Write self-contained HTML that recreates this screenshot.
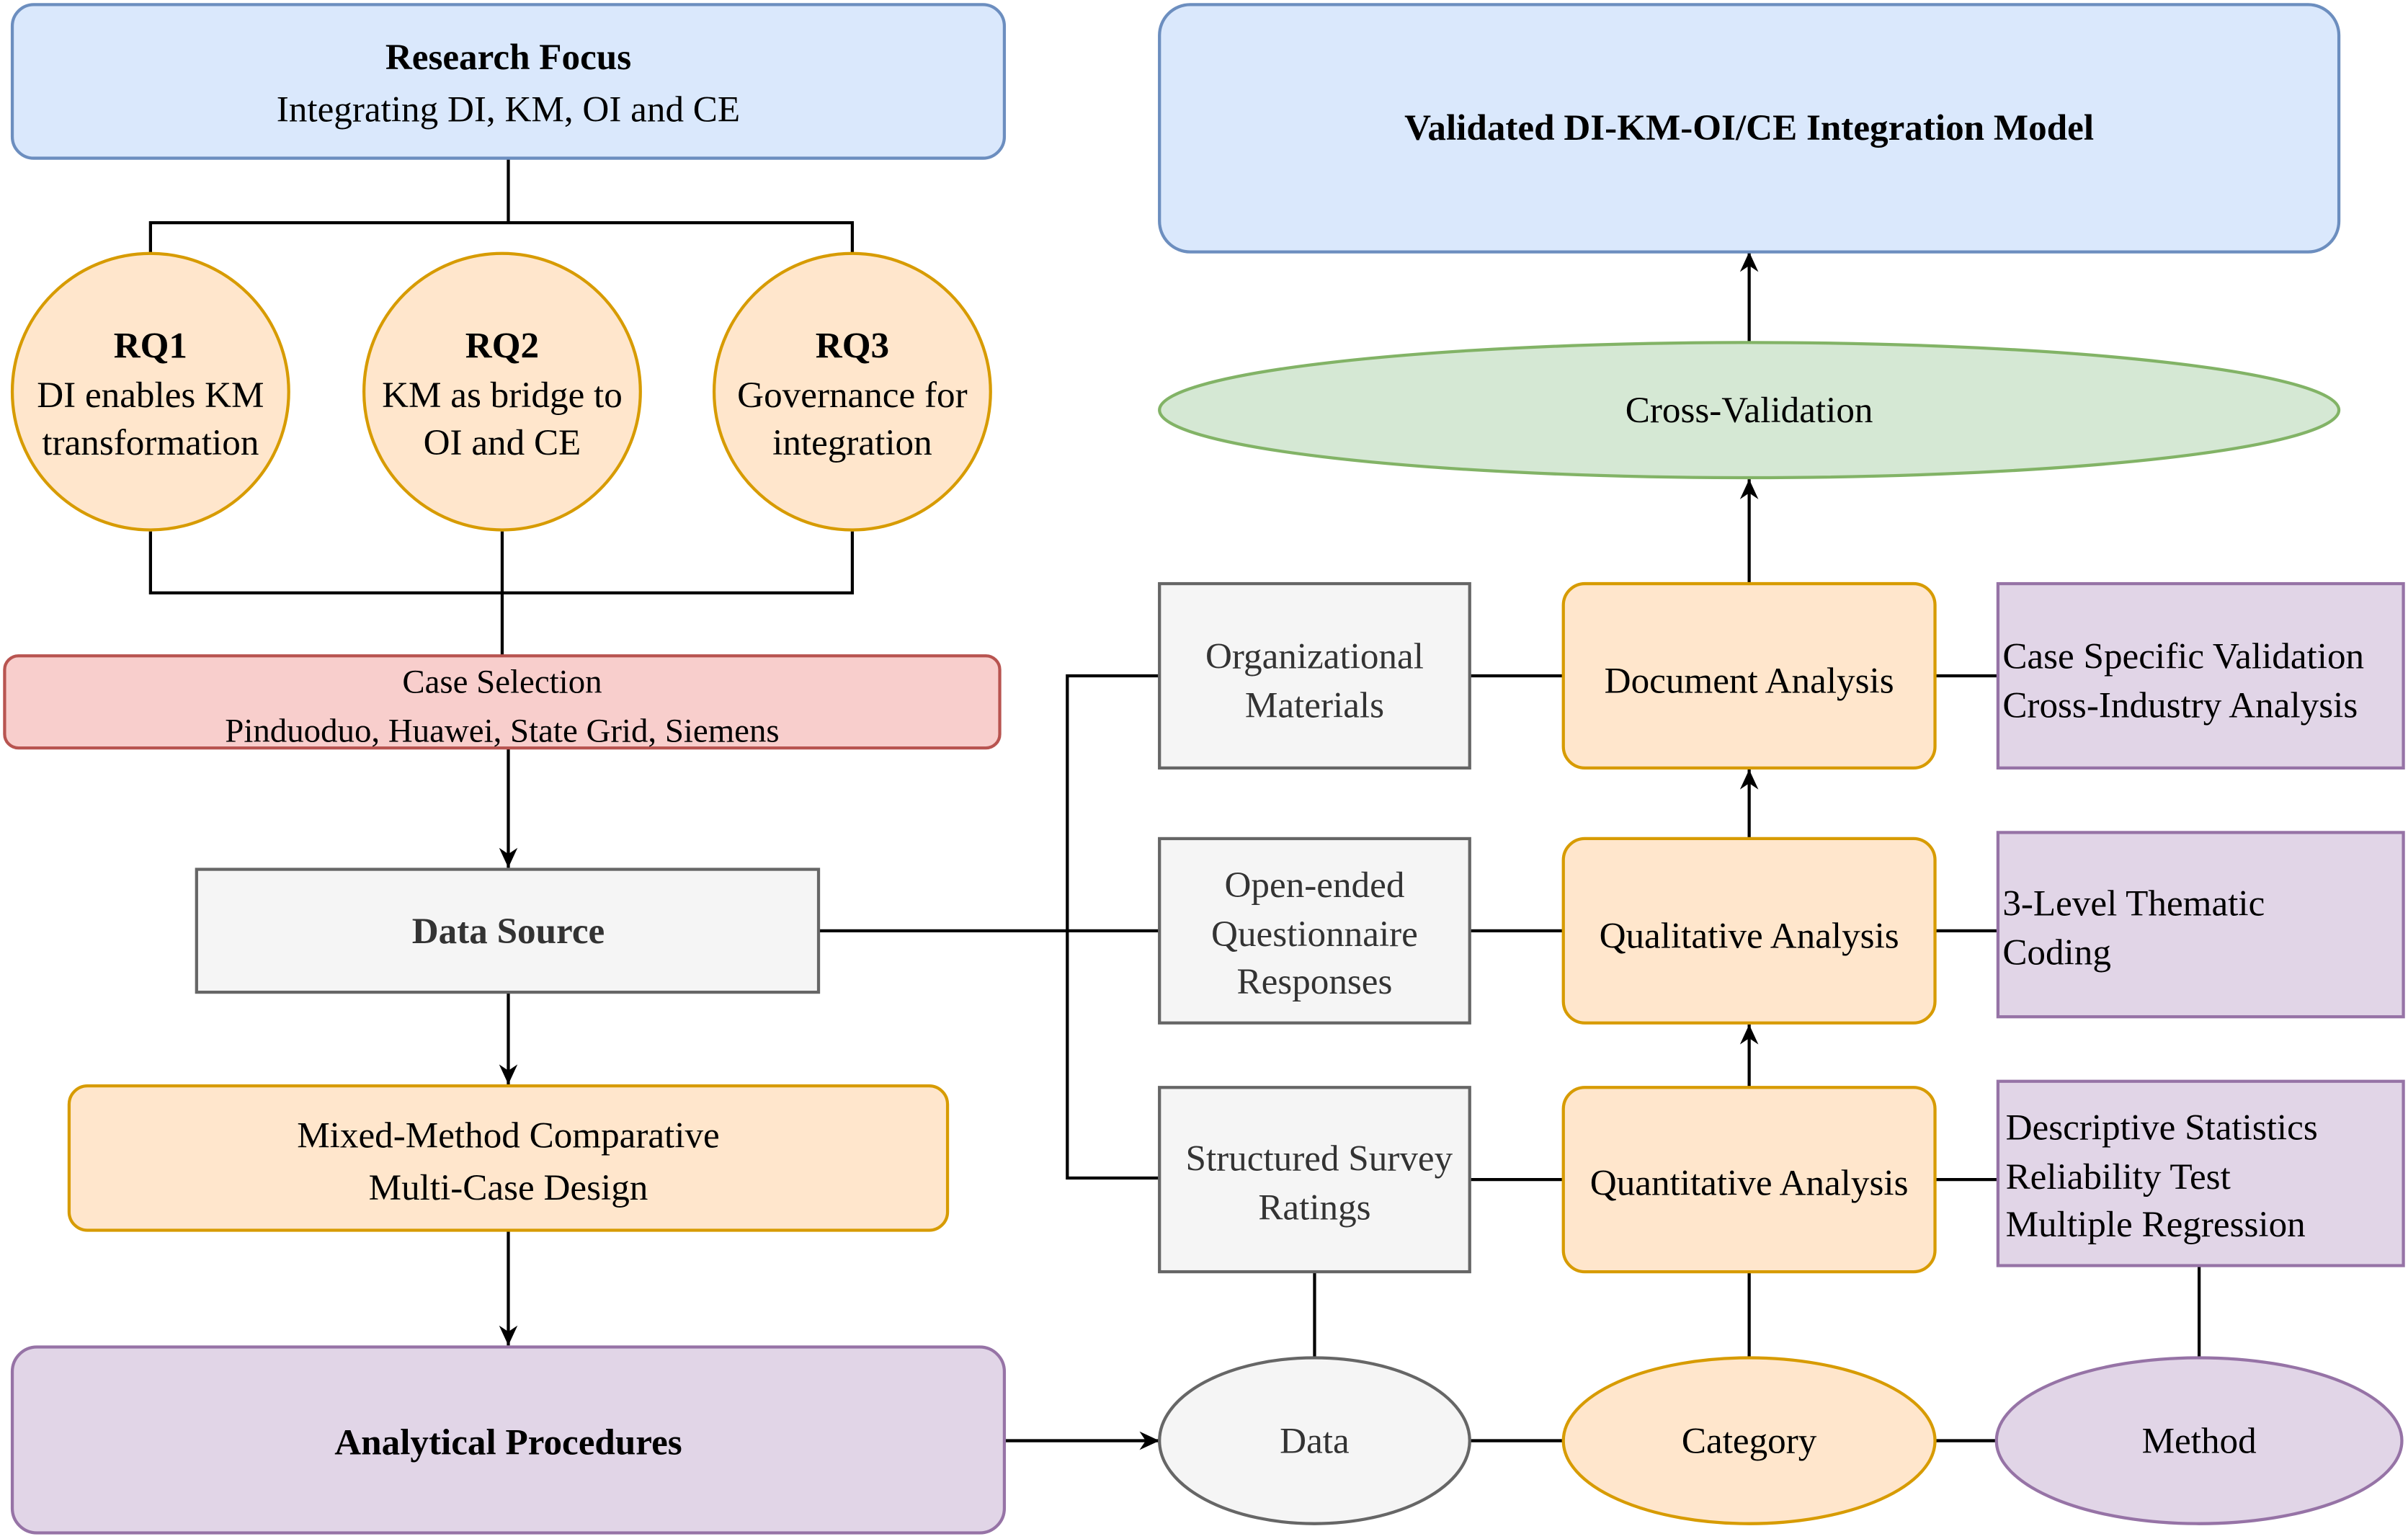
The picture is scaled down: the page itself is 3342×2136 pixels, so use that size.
<!DOCTYPE html>
<html><head><meta charset="utf-8"><style>html,body{margin:0;padding:0;background:#fff}svg{display:block}svg text{font-family:"Liberation Serif","Times New Roman",Times,"Noto Serif CJK SC","DejaVu Serif",serif;font-size:24px;fill:#000}</style></head><body>
<svg width="3342" height="2136" viewBox="0 0 1568 1002" preserveAspectRatio="none" xmlns="http://www.w3.org/2000/svg" font-family="'Liberation Serif','Times New Roman',Times,'Noto Serif CJK SC','DejaVu Serif',serif">
<defs><marker id="a" markerWidth="14" markerHeight="14" refX="13" refY="7" orient="auto" markerUnits="userSpaceOnUse"><path d="M0,1 L13,7 L0,13 L4,7 Z" fill="#000"/></marker></defs>
<g stroke="#000" stroke-width="2" fill="none">
<path d="M331,103V145M98,165V145H555V165"/>
<path d="M98,346V386H555V346M327,346V427"/>
<path d="M331,487V565" marker-end="url(#a)"/>
<path d="M331,646V706" marker-end="url(#a)"/>
<path d="M331,801V876" marker-end="url(#a)"/>
<path d="M654,938H755" marker-end="url(#a)"/>
<path d="M957,938H1018M1260,938H1300M856,828V884M1139,828V884M1432,824V884"/>
<path d="M533,606H755M755,440H695V767H755"/>
<path d="M957,440H1018M957,606H1018M957,768H1018M1260,440H1301M1260,606H1301M1260,768H1301"/>
<path d="M1139,708V667" marker-end="url(#a)"/>
<path d="M1139,546V501" marker-end="url(#a)"/>
<path d="M1139,380V312" marker-end="url(#a)"/>
<path d="M1139,224V164" marker-end="url(#a)"/>
</g>
<rect x="8" y="3" width="646" height="100" rx="14" fill="#dae8fc" stroke="#6c8ebf" stroke-width="2"/>
<text x="331" y="45" text-anchor="middle" font-weight="bold">Research Focus</text>
<text x="331" y="79" text-anchor="middle">Integrating DI, KM, OI and CE</text>
<g fill="#ffe6cc" stroke="#d79b00" stroke-width="2">
<circle cx="98" cy="255" r="90"/><circle cx="327" cy="255" r="90"/><circle cx="555" cy="255" r="90"/></g>
<g text-anchor="middle">
<text x="98" y="233" font-weight="bold">RQ1</text><text x="98" y="265">DI enables KM</text><text x="98" y="296">transformation</text>
<text x="327" y="233" font-weight="bold">RQ2</text><text x="327" y="265">KM as bridge to</text><text x="327" y="296">OI and CE</text>
<text x="555" y="233" font-weight="bold">RQ3</text><text x="555" y="265">Governance for</text><text x="555" y="296">integration</text>
</g>
<rect x="3" y="427" width="648" height="60" rx="9" fill="#f8cecc" stroke="#b85450" stroke-width="2"/>
<text x="327" y="451" text-anchor="middle" style="font-size:22px">Case Selection</text>
<text x="327" y="483" text-anchor="middle" style="font-size:22px">Pinduoduo, Huawei, State Grid, Siemens</text>
<rect x="128" y="566" width="405" height="80" fill="#f5f5f5" stroke="#666" stroke-width="2"/>
<text x="331" y="614" text-anchor="middle" font-weight="bold" style="fill:#333">Data Source</text>
<rect x="45" y="707" width="572" height="94" rx="12" fill="#ffe6cc" stroke="#d79b00" stroke-width="2"/>
<text x="331" y="747" text-anchor="middle">Mixed-Method Comparative</text>
<text x="331" y="781" text-anchor="middle">Multi-Case Design</text>
<rect x="8" y="877" width="646" height="121" rx="16" fill="#e1d5e7" stroke="#9673a6" stroke-width="2"/>
<text x="331" y="947" text-anchor="middle" font-weight="bold">Analytical Procedures</text>
<ellipse cx="856" cy="938" rx="101" ry="54" fill="#f5f5f5" stroke="#666" stroke-width="2"/>
<text x="856" y="946" text-anchor="middle" style="fill:#333">Data</text>
<ellipse cx="1139" cy="938" rx="121" ry="54" fill="#ffe6cc" stroke="#d79b00" stroke-width="2"/>
<text x="1139" y="946" text-anchor="middle">Category</text>
<ellipse cx="1432" cy="938" rx="132" ry="54" fill="#e1d5e7" stroke="#9673a6" stroke-width="2"/>
<text x="1432" y="946" text-anchor="middle">Method</text>
<g fill="#f5f5f5" stroke="#666" stroke-width="2">
<rect x="755" y="380" width="202" height="120"/><rect x="755" y="546" width="202" height="120"/><rect x="755" y="708" width="202" height="120"/></g>
<g text-anchor="middle">
<text x="856" y="435" style="fill:#333">Organizational</text><text x="856" y="467" style="fill:#333">Materials</text>
<text x="856" y="584" style="fill:#333">Open-ended</text><text x="856" y="616" style="fill:#333">Questionnaire</text><text x="856" y="647" style="fill:#333">Responses</text>
<text x="859" y="762" style="fill:#333">Structured Survey</text><text x="856" y="794" style="fill:#333">Ratings</text>
</g>
<g fill="#ffe6cc" stroke="#d79b00" stroke-width="2">
<rect x="1018" y="380" width="242" height="120" rx="14"/><rect x="1018" y="546" width="242" height="120" rx="14"/><rect x="1018" y="708" width="242" height="120" rx="14"/></g>
<g text-anchor="middle">
<text x="1139" y="451">Document Analysis</text>
<text x="1139" y="617">Qualitative Analysis</text>
<text x="1139" y="778">Quantitative Analysis</text>
</g>
<g fill="#e1d5e7" stroke="#9673a6" stroke-width="2">
<rect x="1301" y="380" width="264" height="120"/><rect x="1301" y="542" width="264" height="120"/><rect x="1301" y="704" width="264" height="120"/></g>
<text x="1304" y="435">Case Specific Validation</text><text x="1304" y="467">Cross-Industry Analysis</text>
<text x="1304" y="596">3-Level Thematic</text><text x="1304" y="628">Coding</text>
<text x="1306" y="742">Descriptive Statistics</text><text x="1306" y="774">Reliability Test</text><text x="1306" y="805">Multiple Regression</text>
<ellipse cx="1139" cy="267" rx="384" ry="44" fill="#d5e8d4" stroke="#82b366" stroke-width="2"/>
<text x="1139" y="275" text-anchor="middle">Cross-Validation</text>
<rect x="755" y="3" width="768" height="161" rx="20" fill="#dae8fc" stroke="#6c8ebf" stroke-width="2"/>
<text x="1139" y="91" text-anchor="middle" font-weight="bold">Validated DI-KM-OI/CE Integration Model</text>
</svg>
</body></html>
